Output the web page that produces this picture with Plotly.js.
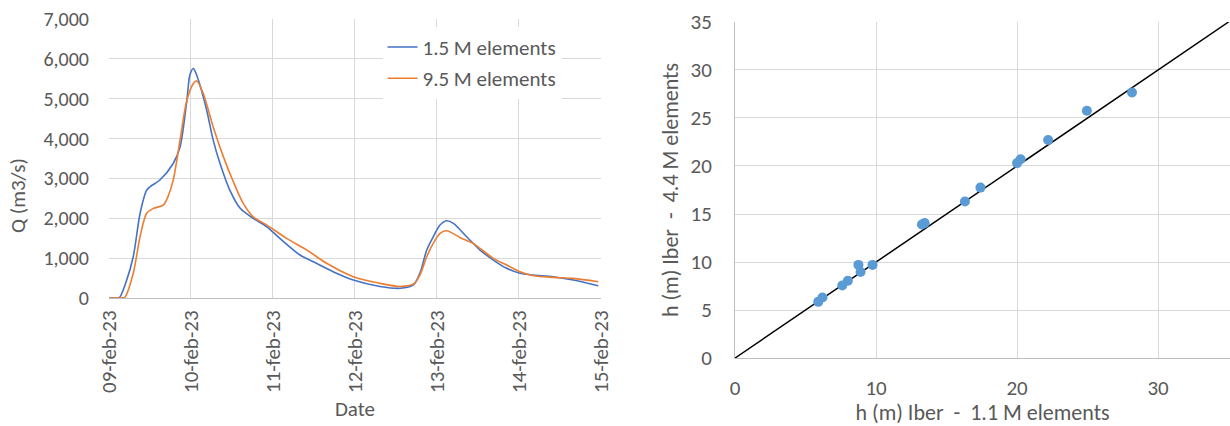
<!DOCTYPE html>
<html>
<head>
<meta charset="utf-8">
<script src="https://cdn.plot.ly/plotly-3.0.1.min.js"></script>
<style>html,body{margin:0;padding:0;background:#fff;}#chart{width:1230px;height:426px;}</style>
</head>
<body>
<div id="chart"></div>
<script>
// ---- Left chart: discharge hydrographs (hours after 09-feb-23 00:00) ----
const startDate = '2023-02-09';
const hoursA = [0, 2.4, 3.2, 5.0, 7.1, 9.1, 11.0, 12.0, 14.9, 18.8, 20.8, 22.8, 23.7, 24.7, 25.4, 26.6, 28.6, 30.5, 32.5, 35.4, 38.4, 42.2, 46.2, 50.0, 55.9, 59.8, 65.6, 71.5, 79.3, 85.2, 89.1, 91.0, 93.0, 94.9, 96.9, 98.8, 100.8, 104.7, 108.6, 112.5, 116.4, 120.3, 124.2, 130.0, 135.9, 143.2];
const qA = [0, 0, 25, 400, 1035, 2120, 2700, 2790, 2960, 3375, 3790, 4960, 5600, 5757, 5650, 5350, 4710, 3960, 3375, 2700, 2250, 2000, 1787, 1496, 1078, 910, 660, 451, 290, 243, 326, 619, 1203, 1536, 1830, 1937, 1872, 1536, 1203, 952, 744, 619, 576, 534, 451, 309];
const hoursB = [0, 3.5, 4.7, 7.1, 9.1, 11.0, 13.0, 15.9, 17.3, 18.8, 20.8, 22.8, 24.7, 25.7, 27.6, 30.5, 33.5, 36.4, 39.3, 42.2, 46.2, 52.0, 57.9, 63.7, 71.5, 79.3, 85.2, 89.1, 91.0, 93.0, 94.9, 96.9, 98.8, 102.7, 106.6, 108.6, 112.5, 116.4, 120.3, 124.2, 130.0, 135.9, 143.2];
const qB = [0, 0, 25, 619, 1536, 2120, 2248, 2330, 2550, 2957, 3960, 4960, 5380, 5446, 5130, 4290, 3540, 2915, 2373, 2037, 1830, 1496, 1203, 870, 534, 368, 290, 351, 576, 1035, 1370, 1620, 1687, 1520, 1370, 1245, 995, 827, 660, 560, 518, 493, 409];
const seriesNames = ['1.5 M elements', '9.5 M elements'];
const dateTickVals = ['2023-02-09', '2023-02-10', '2023-02-11', '2023-02-12', '2023-02-13', '2023-02-14', '2023-02-15'];
const dateTickText = ['09-feb-23', '10-feb-23', '11-feb-23', '12-feb-23', '13-feb-23', '14-feb-23', '15-feb-23'];

// ---- Right chart: water depth comparison ----
const hCoarse = [5.9, 6.2, 7.6, 8.0, 8.75, 8.9, 9.75, 13.25, 13.45, 16.3, 17.4, 20.0, 20.25, 22.2, 24.95, 28.15];
const hFine   = [5.85, 6.3, 7.55, 8.05, 9.7, 8.95, 9.7, 13.9, 14.05, 16.3, 17.75, 20.3, 20.7, 22.7, 25.75, 27.65];
const identityLine = [0, 35];

const t0 = Date.parse(startDate + 'T00:00:00Z');
const toDates = hs => hs.map(h => new Date(t0 + h * 3600000).toISOString().replace('T', ' ').replace('Z', ''));

const FONT = 'Calibri, Carlito, Lato, "Open Sans", sans-serif';
const TXT = '#595959';
const GRID = '#d9d9d9';
const AXL = '#bfbfbf';

const traces = [
  {x: toDates(hoursA), y: qA, type: 'scatter', mode: 'lines', name: seriesNames[0],
   line: {color: '#4472C4', width: 1.6, shape: 'spline', smoothing: 0.8},
   xaxis: 'x', yaxis: 'y', legendgroup: 'a'},
  {x: toDates(hoursB), y: qB, type: 'scatter', mode: 'lines', name: seriesNames[1],
   line: {color: '#ED7D31', width: 1.6, shape: 'spline', smoothing: 0.8},
   xaxis: 'x', yaxis: 'y', legendgroup: 'b'},
  {x: identityLine, y: identityLine, type: 'scatter', mode: 'lines', showlegend: false,
   line: {color: '#000000', width: 1.5}, xaxis: 'x2', yaxis: 'y2', hoverinfo: 'skip'},
  {x: hCoarse, y: hFine, type: 'scatter', mode: 'markers', showlegend: false,
   marker: {color: '#5B9BD5', size: 10}, xaxis: 'x2', yaxis: 'y2'}
];

const layout = {
  width: 1230, height: 426,
  margin: {l: 0, r: 0, t: 0, b: 0},
  paper_bgcolor: '#ffffff', plot_bgcolor: '#ffffff',
  font: {family: FONT, color: TXT, size: 20},
  showlegend: true,
  legend: {x: 0.311, y: 0.937, xanchor: 'left', yanchor: 'top', bgcolor: '#ffffff',
           font: {family: FONT, size: 21, color: TXT}, tracegroupgap: 1, itemwidth: 30},
  annotations: [
    {text: 'Q (m3/s)', xref: 'paper', yref: 'paper', x: 0.0146, y: 0.542,
     xanchor: 'center', yanchor: 'middle', textangle: -90, showarrow: false,
     font: {family: FONT, size: 21, color: TXT}}
  ],
  xaxis: {
    type: 'date', domain: [0.0886, 0.4886], range: ['2023-02-09', '2023-02-15'],
    tickvals: dateTickVals, ticktext: dateTickText, tickangle: -90,
    showgrid: true, gridcolor: GRID, gridwidth: 1,
    showline: true, linecolor: AXL, linewidth: 1, ticks: '', zeroline: false,
    ticklabelstandoff: 3,
    tickfont: {family: FONT, size: 21, color: TXT},
    title: {text: 'Date', font: {family: FONT, size: 21, color: TXT}, standoff: 9},
    anchor: 'y', automargin: false, fixedrange: true
  },
  yaxis: {
    domain: [0.3005, 0.9554], range: [0, 7000], dtick: 1000, tickformat: ',d',
    showgrid: true, gridcolor: GRID, gridwidth: 1, zeroline: false,
    showline: false, ticks: '', ticklabelstandoff: 19,
    tickfont: {family: FONT, size: 20, color: TXT},
    anchor: 'x', automargin: false, fixedrange: true
  },
  xaxis2: {
    domain: [0.5976, 1.0], range: [0, 35.1], dtick: 10, tick0: 0,
    showgrid: true, gridcolor: GRID, gridwidth: 1, zeroline: false,
    showline: true, linecolor: AXL, linewidth: 1, ticks: '', ticklabelstandoff: 11,
    tickfont: {family: FONT, size: 21, color: TXT},
    title: {text: 'h (m) Iber \u00a0-\u00a0 1.1 M elements', font: {family: FONT, size: 22, color: TXT}, standoff: 4},
    anchor: 'y2', automargin: false, fixedrange: true
  },
  yaxis2: {
    domain: [0.1596, 0.9484], range: [0, 35], dtick: 5, tick0: 0,
    showgrid: true, gridcolor: GRID, gridwidth: 1, zeroline: false,
    showline: true, linecolor: AXL, linewidth: 1, ticks: '', ticklabelstandoff: 18,
    tickfont: {family: FONT, size: 21, color: TXT},
    title: {text: 'h (m) Iber \u00a0-\u00a0 4.4 M elements', font: {family: FONT, size: 22, color: TXT}, standoff: 5},
    anchor: 'x2', automargin: false, fixedrange: true
  }
};

Plotly.newPlot('chart', traces, layout, {displayModeBar: false, staticPlot: true});
</script>
</body>
</html>
